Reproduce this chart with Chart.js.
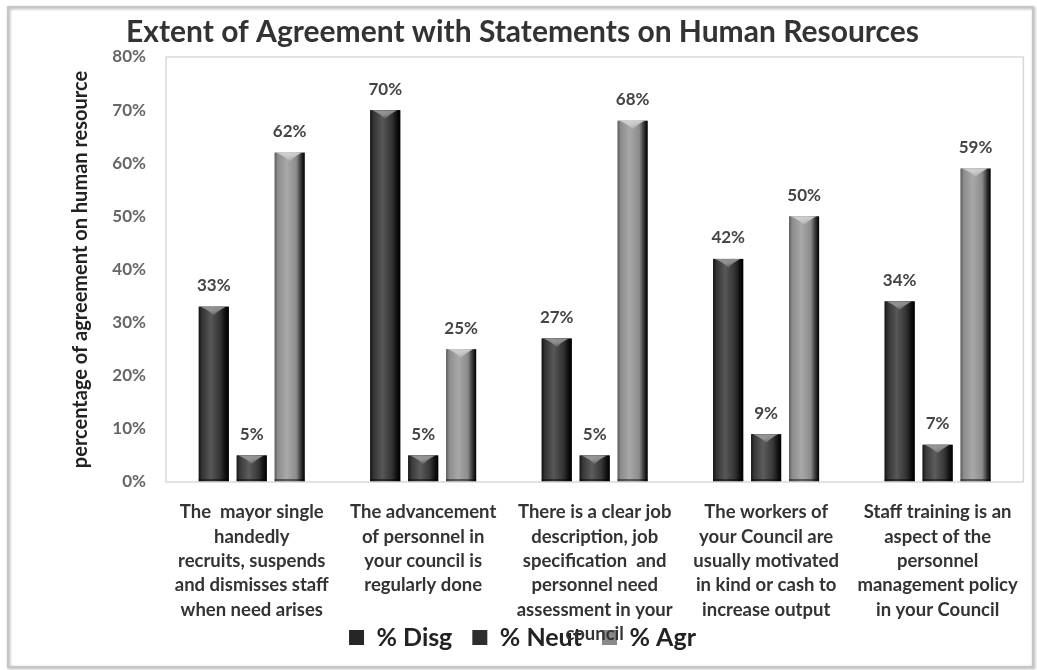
<!DOCTYPE html>
<html>
<head>
<meta charset="utf-8">
<script src="https://cdn.jsdelivr.net/npm/chart.js@4.4.0/dist/chart.umd.min.js"></script>
<style>
  html, body { margin: 0; padding: 0; background: #fff; }
  #wrap { width: 1037px; height: 670px; position: relative; }
</style>
</head>
<body>
<div id="wrap"><canvas id="chart"></canvas></div>
<script>
const categories = [
  ['The  mayor single', 'handedly', 'recruits, suspends', 'and dismisses staff', 'when need arises'],
  ['The advancement', 'of personnel in', 'your council is', 'regularly done'],
  ['There is a clear job', 'description, job', 'specification  and', 'personnel need', 'assessment in your', 'council'],
  ['The workers of', 'your Council are', 'usually motivated', 'in kind or cash to', 'increase output'],
  ['Staff training is an', 'aspect of the', 'personnel', 'management policy', 'in your Council']
];
const disagree = [33, 70, 27, 42, 34];
const neutral = [5, 5, 5, 9, 7];
const agree = [62, 25, 68, 50, 59];
const seriesNames = ['% Disg', '% Neut', '% Agr'];

const FONT = 'Lato, "Open Sans", sans-serif';

// shading for the cylinder look: left edge, body, highlight, shadow side
const shades = [
  { edge: '#111', body: '#333', light: '#575757', dark: '#0c0c0c', cap: '#8a8a8a', flat: '#262626' },
  { edge: '#151515', body: '#383838', light: '#5c5c5c', dark: '#101010', cap: '#8e8e8e', flat: '#2e2e2e' },
  { edge: '#5a5a5a', body: '#8c8c8c', light: '#a8a8a8', dark: '#2a2a2a', cap: '#cfcfcf', flat: '#8a8a8a' }
];

const cylinderBars = {
  id: 'cylinderBars',
  afterDatasetsDraw(chart) {
    const ctx = chart.ctx;
    chart.data.datasets.forEach((ds, di) => {
      const meta = chart.getDatasetMeta(di);
      const s = shades[di];
      meta.data.forEach((bar, i) => {
        const { x, y, base, width } = bar.getProps(['x', 'y', 'base', 'width'], true);
        const l = x - width / 2, r = x + width / 2, h = base - y;
        ctx.save();
        const g = ctx.createLinearGradient(l, 0, r, 0);
        g.addColorStop(0, s.edge);
        g.addColorStop(0.1, s.body);
        g.addColorStop(0.4, s.light);
        g.addColorStop(0.72, s.body);
        g.addColorStop(0.9, s.dark);
        g.addColorStop(1, '#000');
        ctx.fillStyle = g;
        ctx.fillRect(l, y, width, h);
        // bevelled top
        const capH = Math.min(9, h / 2);
        const cg = ctx.createLinearGradient(0, y, 0, y + capH);
        cg.addColorStop(0, s.cap);
        cg.addColorStop(1, 'rgba(255,255,255,0)');
        ctx.fillStyle = cg;
        ctx.beginPath();
        ctx.moveTo(l + 2, y);
        ctx.lineTo(r - 3, y);
        ctx.quadraticCurveTo(x + width * 0.15, y + capH * 0.4, x, y + capH);
        ctx.quadraticCurveTo(x - width * 0.15, y + capH * 0.4, l + 2, y);
        ctx.closePath();
        ctx.fill();
        // darker base rim
        ctx.fillStyle = 'rgba(0,0,0,0.45)';
        ctx.fillRect(l, base - 3, width, 3);
        ctx.restore();

        // value label
        ctx.save();
        ctx.font = 'bold 17px ' + FONT;
        ctx.fillStyle = '#444';
        ctx.textAlign = 'center';
        ctx.textBaseline = 'middle';
        ctx.fillText(ds.data[i] + '%', x, y - 21);
        ctx.restore();
      });
    });
  }
};

const frame = {
  id: 'frame',
  afterLayout(chart) {
    // let the long category label run down into the legend row
    chart.scales.x.bottom = chart.height;
  },
  beforeDraw(chart) {
    const ctx = chart.ctx;
    ctx.save();
    ctx.fillStyle = '#fff';
    ctx.fillRect(0, 0, chart.width, chart.height);
    ctx.restore();
  },
  afterDraw(chart) {
    const ctx = chart.ctx;
    const a = chart.chartArea;
    ctx.save();
    ctx.strokeStyle = '#d9d9d9';
    ctx.lineWidth = 1.5;
    ctx.strokeRect(a.left, a.top, a.right - a.left, a.bottom - a.top);
    ctx.shadowColor = 'rgba(0,0,0,0.35)';
    ctx.shadowBlur = 3;
    ctx.shadowOffsetX = 1;
    ctx.shadowOffsetY = 1;
    ctx.strokeStyle = '#c6c6c6';
    ctx.lineWidth = 2;
    ctx.strokeRect(8, 7, 1025, 660);
    ctx.restore();
  }
};

new Chart(document.getElementById('chart'), {
  type: 'bar',
  data: {
    labels: categories,
    datasets: [
      { label: seriesNames[0], data: disagree, backgroundColor: shades[0].flat },
      { label: seriesNames[1], data: neutral, backgroundColor: shades[1].flat },
      { label: seriesNames[2], data: agree, backgroundColor: shades[2].flat }
    ]
  },
  options: {
    responsive: true,
    maintainAspectRatio: false,
    animation: false,
    categoryPercentage: 0.664,
    barPercentage: 0.79,
    layout: { padding: { left: 20, right: 12, top: 8, bottom: 10 } },
    plugins: {
      title: {
        display: true,
        text: 'Extent of Agreement with Statements on Human Resources',
        color: '#333',
        font: { family: FONT, size: 30, weight: 'bold' },
        padding: { top: 6, bottom: 7 }
      },
      legend: {
        position: 'bottom',
        labels: {
          color: '#222',
          font: { family: FONT, size: 25, weight: 'bold' },
          boxWidth: 15,
          boxHeight: 15,
          padding: 20
        }
      },
      tooltip: { enabled: false }
    },
    scales: {
      x: {
        grid: { display: false, drawTicks: false },
        border: { display: false },
        ticks: {
          color: '#333',
          font: { family: FONT, size: 18.5, weight: 'bold', lineHeight: 1.32 },
          padding: 18,
          maxRotation: 0,
          autoSkip: false
        },
        afterFit(scale) { scale.height = 123; }
      },
      y: {
        min: 0,
        max: 80,
        grid: { display: false, drawTicks: false },
        border: { display: false },
        ticks: {
          stepSize: 10,
          color: '#666',
          padding: 20,
          font: { family: FONT, size: 17, weight: 'bold' },
          callback: (v) => v + '%'
        },
        title: {
          display: true,
          text: 'percentage of agreement on human resource',
          color: '#222',
          font: { family: FONT, size: 20, weight: 'bold' },
          padding: { top: 49, bottom: 0 }
        },
        afterFit(scale) { scale.width = 146; }
      }
    }
  },
  plugins: [cylinderBars, frame]
});
</script>
</body>
</html>
